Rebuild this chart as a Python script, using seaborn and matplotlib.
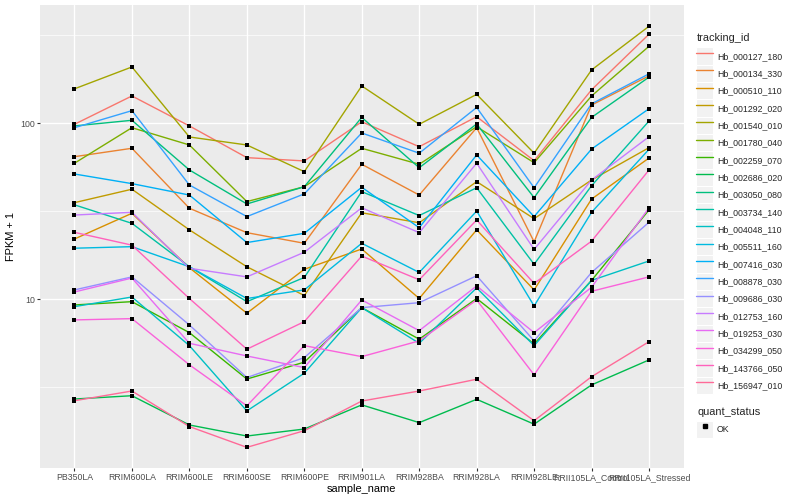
import numpy as np
import pandas as pd
import matplotlib
matplotlib.use("Agg")
import matplotlib.pyplot as plt
import seaborn as sns
from matplotlib.lines import Line2D
from matplotlib.patches import Rectangle
from matplotlib.legend_handler import HandlerLine2D
from matplotlib.ticker import FixedLocator, NullFormatter

# ---------------- data ----------------
samples = ["PB350LA", "RRIM600LA", "RRIM600LE", "RRIM600SE", "RRIM600PE", "RRIM901LA",
           "RRIM928BA", "RRIM928LA", "RRIM928LE", "RRII105LA_Control", "RRII105LA_Stressed"]

tracking_ids = ["Hb_000127_180", "Hb_000134_330", "Hb_000510_110", "Hb_001292_020",
                "Hb_001540_010", "Hb_001780_040", "Hb_002259_070", "Hb_002686_020",
                "Hb_003050_080", "Hb_003734_140", "Hb_004048_110", "Hb_005511_160",
                "Hb_007416_030", "Hb_008878_030", "Hb_009686_030", "Hb_012753_160",
                "Hb_019253_030", "Hb_034299_050", "Hb_143766_050", "Hb_156947_010"]

Hb_000127_180 = [98.7, 143, 96.6, 63.8, 61.1, 102, 73.6, 109, 61.3, 155, 321]
Hb_000134_330 = [64.6, 72.1, 32.9, 23.9, 20.8, 58.5, 39.1, 94.4, 21.2, 127, 186]
Hb_000510_110 = [22.0, 30.8, 15.1, 8.33, 14.8, 19.3, 10.1, 24.8, 11.3, 37.1, 63.5]
Hb_001292_020 = [35.4, 42.2, 24.8, 15.3, 10.5, 31.0, 27.2, 46.6, 28.7, 47.6, 72.7]
Hb_001540_010 = [157, 209, 83.6, 75.3, 53.1, 163, 98.7, 146, 67.6, 201, 356]
Hb_001780_040 = [59.3, 94.4, 75.3, 35.9, 43.6, 72.1, 58.5, 95.6, 59.7, 143, 274]
Hb_002259_070 = [9.28, 9.69, 6.46, 3.52, 4.39, 8.96, 5.93, 10.1, 5.57, 12.8, 32.2]
Hb_002686_020 = [2.71, 2.83, 1.93, 1.67, 1.83, 2.51, 1.99, 2.70, 1.95, 3.26, 4.52]
Hb_003050_080 = [96.6, 104, 54.3, 34.8, 43.6, 108, 55.9, 99.1, 37.8, 108, 183]
Hb_003734_140 = [34.4, 27.0, 15.3, 9.69, 13.3, 40.9, 29.9, 43.0, 15.8, 44.2, 103]
Hb_004048_110 = [9.08, 10.3, 5.45, 2.32, 3.80, 8.96, 5.62, 11.6, 5.45, 12.8, 16.5]
Hb_005511_160 = [19.5, 19.9, 15.3, 10.1, 11.3, 20.8, 14.2, 31.7, 9.16, 31.2, 71.2]
Hb_007416_030 = [51.5, 45.4, 39.1, 21.0, 23.7, 43.3, 25.5, 66.1, 29.5, 71.4, 121]
Hb_008878_030 = [94.4, 118, 44.6, 29.5, 39.7, 88.1, 67.6, 123, 43.0, 129, 191]
Hb_009686_030 = [11.3, 13.4, 7.14, 3.59, 4.66, 8.96, 9.56, 13.6, 5.80, 14.2, 27.4]
Hb_012753_160 = [30.1, 31.2, 15.0, 13.4, 18.5, 33.1, 23.9, 59.3, 19.2, 47.6, 83.9]
Hb_019253_030 = [11.0, 13.2, 5.62, 4.76, 4.09, 9.91, 6.63, 11.9, 6.46, 11.7, 33.1]
Hb_034299_050 = [7.63, 7.76, 4.24, 2.48, 5.45, 4.72, 5.80, 9.91, 3.72, 11.1, 13.4]
Hb_143766_050 = [24.0, 20.3, 10.1, 5.20, 7.46, 17.6, 12.9, 28.2, 12.3, 21.4, 54.3]
Hb_156947_010 = [2.65, 3.01, 1.89, 1.44, 1.79, 2.64, 3.01, 3.51, 2.04, 3.63, 5.74]

series_values = [Hb_000127_180, Hb_000134_330, Hb_000510_110, Hb_001292_020, Hb_001540_010,
                 Hb_001780_040, Hb_002259_070, Hb_002686_020, Hb_003050_080, Hb_003734_140,
                 Hb_004048_110, Hb_005511_160, Hb_007416_030, Hb_008878_030, Hb_009686_030,
                 Hb_012753_160, Hb_019253_030, Hb_034299_050, Hb_143766_050, Hb_156947_010]

quant_status = "OK"

# ---------------- style ----------------
colors = ["#F8766D", "#EA8331", "#D89000", "#C09B00", "#A3A500", "#7CAE00", "#39B600",
          "#00BB4E", "#00BF7D", "#00C1A3", "#00BFC4", "#00BAE0", "#00B0F6", "#35A2FF",
          "#9590FF", "#C77CFF", "#E76BF3", "#FA62DB", "#FF62BC", "#FF6A98"]
palette = dict(zip(tracking_ids, colors))

sns.set_style("white")
plt.rcParams["font.family"] = ["Liberation Sans", "DejaVu Sans"]

rows = []
for tid, vals in zip(tracking_ids, series_values):
    for s, v in zip(samples, vals):
        rows.append({"sample_name": s, "FPKM": v, "tracking_id": tid, "quant_status": quant_status})
df = pd.DataFrame(rows)
df["sample_name"] = pd.Categorical(df["sample_name"], categories=samples, ordered=True)
df["xpos"] = df["sample_name"].cat.codes

fig = plt.figure(figsize=(8, 5), dpi=100)
ax = fig.add_axes([40 / 800, 1 - 468.4 / 500, (683.5 - 40) / 800, (468.4 - 5.2) / 500])
ax.set_facecolor("#EBEBEB")

sns.lineplot(data=df, x="xpos", y="FPKM", hue="tracking_id", hue_order=tracking_ids,
             palette=palette, estimator=None, sort=False, units="tracking_id",
             linewidth=1.0, legend=False, ax=ax, zorder=2)
sns.scatterplot(data=df, x="xpos", y="FPKM", color="black", marker="s", s=10,
                linewidth=0, legend=False, ax=ax, zorder=3)

ax.set_yscale("log")
logs = np.log10(df["FPKM"].values)
lo, hi = logs.min(), logs.max()
r = hi - lo
ax.set_ylim(10 ** (lo - 0.05 * r), 10 ** (hi + 0.05 * r))
ax.set_xlim(-0.6, len(samples) - 1 + 0.6)

ax.xaxis.set_major_locator(FixedLocator(range(len(samples))))
ax.set_xticklabels(samples)
ax.xaxis.set_minor_locator(FixedLocator([]))
ax.yaxis.set_major_locator(FixedLocator([10, 100]))
ax.set_yticklabels(["10", "100"])
ax.yaxis.set_minor_locator(FixedLocator([10 ** 0.5, 10 ** 1.5, 10 ** 2.5]))
ax.yaxis.set_minor_formatter(NullFormatter())

ax.grid(which="major", color="white", linewidth=1.0)
ax.grid(which="minor", axis="y", color="white", linewidth=0.5)
ax.set_axisbelow(True)
for sp in ax.spines.values():
    sp.set_visible(False)

ax.tick_params(which="major", length=2.0, width=0.8, color="#333333",
               labelsize=6.3, labelcolor="#4D4D4D", pad=1.6, bottom=True, left=True)
ax.tick_params(which="minor", length=0)

ax.set_xlabel("sample_name", fontsize=7.9, labelpad=0.8, color="black")
ax.set_ylabel("FPKM + 1", fontsize=7.9, labelpad=3, color="black")


class KeyHandler(HandlerLine2D):
    def create_artists(self, legend, orig_handle, xdescent, ydescent, width, height, fontsize, trans):
        bg = Rectangle((-xdescent, -ydescent), width, height, facecolor="#F2F2F2",
                       edgecolor="white", linewidth=0.8, transform=trans)
        arts = super().create_artists(legend, orig_handle, xdescent, ydescent, width, height, fontsize, trans)
        return [bg] + list(arts)


legend_kw = dict(loc="upper left", frameon=False, fontsize=6.3, handlelength=1.95,
                 handleheight=2.67, labelspacing=0.0, handletextpad=0.45, borderpad=0,
                 borderaxespad=0, handler_map={Line2D: KeyHandler()})

fig.text(697 / 800, 1 - 38 / 500, "tracking_id", fontsize=7.9, va="center", ha="left")
h1 = [Line2D([], [], color=palette[t], linewidth=1.0) for t in tracking_ids]
leg1 = fig.legend(h1, tracking_ids, bbox_to_anchor=(696 / 800, 1 - 47.5 / 500), **legend_kw)

fig.text(697 / 800, 1 - 412 / 500, "quant_status", fontsize=7.9, va="center", ha="left")
h2 = [Line2D([], [], color="black", marker="s", markersize=2.6, linestyle="None")]
leg2 = fig.legend(h2, [quant_status], bbox_to_anchor=(696 / 800, 1 - 420.5 / 500), **legend_kw)

fig.savefig("out.png", dpi=100)
